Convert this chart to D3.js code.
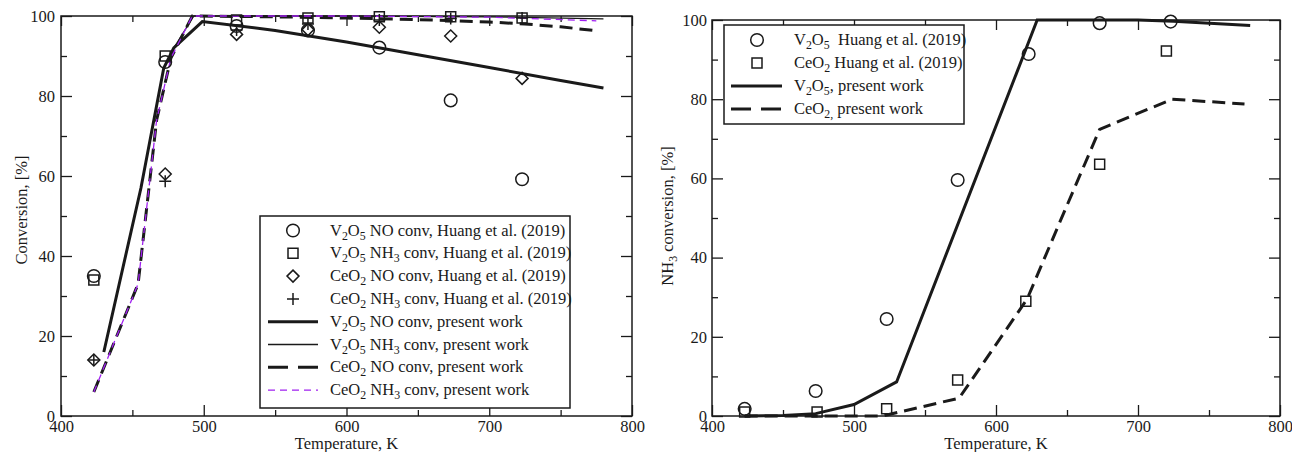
<!DOCTYPE html>
<html>
<head>
<meta charset="utf-8">
<script src="https://cdn.jsdelivr.net/npm/d3@7"></script>
<style>
  body { margin: 0; background: #fff; }
  svg { display: block; font-family: "Liberation Serif", "DejaVu Serif", serif; }
  text { white-space: pre; font-family: "Liberation Serif", "DejaVu Serif", serif; }
</style>
</head>
<body>
<div id="chart"></div>
<script>
/* DATA */
const tempTicks = [400, 500, 600, 700, 800];
const convTicks = [0, 20, 40, 60, 80, 100];
const expTemps = [423, 473, 523, 573, 623, 673, 723];

// left panel, Huang et al. (2019)
const v2o5NoExp = [35, 88.5, 97.5, 96.4, 92.1, 78.9, 59.2];
const v2o5Nh3Exp = [34, 90, 99, 99.5, 99.8, 99.8, 99.5];
const ceo2NoExp = [14, 60.5, 95.4, 96.6, 97.2, 95, 84.4];
const ceo2Nh3Exp = [14, 58.7, 96.5, 98, 99, 99.4, 99.5];

// left panel, present work
const v2o5NoModel = [[430, 16], [456, 57], [472, 87], [479, 92], [499, 98.6], [550, 96.4], [600, 93.5], [650, 90.3], [700, 87.1], [750, 83.9], [780, 82]];
const v2o5Nh3Model = [[430, 16], [456, 57], [472, 87], [479, 92], [493, 100], [600, 100], [700, 99.8], [780, 99.3]];
const ceo2NoModel = [[423, 6], [454, 33], [467, 74], [477, 89.5], [492, 100], [550, 99.8], [600, 99.5], [650, 99.1], [700, 98.5], [725, 98], [750, 97.3], [775, 96.3]];
const ceo2Nh3Model = [[423, 6], [454, 33], [467, 74], [477, 89.5], [492, 100], [600, 100], [700, 99.7], [775, 98.8]];

// right panel, NH3 conversion
const v2o5Nh3ExpR = [1.8, 6.3, 24.5, 59.6, 91.4, 99.2, 99.6];
const ceo2Temps = [423, 474, 523, 573, 621, 673, 720];
const ceo2Nh3ExpR = [1.0, 1.0, 1.8, 9.1, 29, 63.6, 92.2];
const v2o5Nh3ModelR = [[423, 0], [450, 0.1], [473, 0.6], [500, 2.9], [530, 8.6], [629, 100], [700, 100], [725, 99.7], [779, 98.6]];
const ceo2Nh3ModelR = [[423, 0], [520, 0], [574, 4.5], [598, 17], [622, 29.6], [645, 49], [673, 72.4], [724, 80], [775, 78.8]];

const svg = d3.select('#chart').append('svg')
  .attr('width', 1292)
  .attr('height', 452);

const ink = '#1a1a1a';
const purple = '#a020f0';
const fs = 16.5;

// writes "V_2O_5" style labels with subscripts
function richText(sel, str) {
  const parts = str.split(/(_\{[^}]*\}|_\S)/).filter(s => s.length);
  let low = false;
  parts.forEach(p => {
    if (p[0] === '_') {
      const s = p[1] === '{' ? p.slice(2, -1) : p.slice(1);
      sel.append('tspan').attr('dy', low ? 0 : 4).attr('font-size', '0.72em').text(s);
      low = true;
    } else {
      sel.append('tspan').attr('dy', low ? -4 : 0).text(p);
      low = false;
    }
  });
}

function marker(g, type, x, y) {
  const s = g.append('path').attr('fill', 'none').attr('stroke', ink).attr('stroke-width', 1.5);
  if (type === 'circle') s.attr('d', d3.symbol(d3.symbolCircle, 125)()).attr('transform', `translate(${x},${y})`);
  if (type === 'square') s.attr('d', `M-5,-5H5V5H-5Z`).attr('transform', `translate(${x},${y})`);
  if (type === 'diamond') s.attr('d', `M0,-6L6,0L0,6L-6,0Z`).attr('transform', `translate(${x},${y})`);
  if (type === 'plus') s.attr('d', `M-6,0H6M0,-6V6`).attr('transform', `translate(${x},${y})`);
}

const lineStyles = {
  thick: { w: 3, dash: null, c: ink },
  thin: { w: 1.3, dash: null, c: ink },
  thickDash: { w: 3, dash: '13,7', c: ink },
  purpleDash: { w: 1.3, dash: '7,5', c: purple }
};

function panel(opt) {
  const x = d3.scaleLinear().domain([400, 800]).range(opt.xr);
  const y = d3.scaleLinear().domain([0, 100]).range(opt.yr);
  const g = svg.append('g');
  const [x0, x1] = opt.xr;
  const [y0, y1] = opt.yr;

  // ticks on all four sides, pointing in
  const minorX = d3.range(450, 800, 100);
  const minorY = d3.range(10, 100, 20);
  const axes = [
    [d3.axisBottom(x).tickValues(tempTicks).tickSize(-11).tickPadding(4), `translate(0,${y0})`, true],
    [d3.axisBottom(x).tickValues(minorX).tickSize(-6).tickFormat(''), `translate(0,${y0})`, false],
    [d3.axisTop(x).tickValues(tempTicks).tickSize(-10).tickFormat(''), `translate(0,${y1})`, false],
    [d3.axisTop(x).tickValues(minorX).tickSize(-6).tickFormat(''), `translate(0,${y1})`, false],
    [d3.axisLeft(y).tickValues(convTicks).tickSize(-11).tickPadding(opt.yPad), `translate(${x0},0)`, true],
    [d3.axisLeft(y).tickValues(minorY).tickSize(-6).tickFormat(''), `translate(${x0},0)`, false],
    [d3.axisRight(y).tickValues(convTicks).tickSize(-11).tickFormat(''), `translate(${x1},0)`, false],
    [d3.axisRight(y).tickValues(minorY).tickSize(-6).tickFormat(''), `translate(${x1},0)`, false]
  ];
  axes.forEach(([ax, tr, labels]) => {
    const a = g.append('g').attr('transform', tr).call(ax.tickSizeOuter(0));
    a.select('.domain').remove();
    a.attr('font-family', null).attr('font-size', fs);
    a.selectAll('line').attr('stroke', ink).attr('stroke-width', 1.3);
    if (labels) a.selectAll('text').attr('fill', ink);
  });

  g.append('rect')
    .attr('x', x0).attr('y', y1)
    .attr('width', x1 - x0).attr('height', y0 - y1)
    .attr('fill', 'none').attr('stroke', ink).attr('stroke-width', 1.5);

  // axis titles
  g.append('text')
    .attr('x', (x0 + x1) / 2).attr('y', 449)
    .attr('text-anchor', 'middle').attr('font-size', fs).attr('fill', ink)
    .text('Temperature, K');
  const yt = g.append('text')
    .attr('transform', `translate(${opt.yTitleX},${opt.yTitleY}) rotate(-90)`)
    .attr('text-anchor', 'middle').attr('font-size', fs).attr('fill', ink);
  richText(yt, opt.yTitle);

  const line = d3.line().x(d => x(d[0])).y(d => y(d[1]));
  opt.lines.forEach(l => {
    const st = lineStyles[l.style];
    g.append('path')
      .datum(l.data)
      .attr('d', line)
      .attr('fill', 'none')
      .attr('stroke', st.c)
      .attr('stroke-width', st.w)
      .attr('stroke-dasharray', st.dash);
  });
  opt.points.forEach(p => {
    p.values.forEach((v, i) => marker(g, p.type, x(p.temps[i]), y(v)));
  });

  // legend
  const lg = opt.legend;
  g.append('rect')
    .attr('x', lg.x).attr('y', lg.y)
    .attr('width', lg.w).attr('height', lg.h)
    .attr('fill', '#fff').attr('stroke', ink).attr('stroke-width', 1.5);
  lg.items.forEach((it, i) => {
    const cy = lg.y + lg.first + i * lg.step;
    if (it.type) {
      marker(g, it.type, lg.symX, cy);
    } else {
      const st = lineStyles[it.style];
      g.append('line')
        .attr('x1', lg.lineX[0]).attr('x2', lg.lineX[1])
        .attr('y1', cy).attr('y2', cy)
        .attr('stroke', st.c).attr('stroke-width', st.w)
        .attr('stroke-dasharray', it.style === 'thickDash' ? '20,10' : st.dash);
    }
    const t = g.append('text')
      .attr('x', lg.textX).attr('y', cy + 5)
      .attr('font-size', fs).attr('fill', ink);
    richText(t, it.label);
  });
}

panel({
  xr: [61, 632], yr: [416, 16], yPad: 6,
  yTitle: 'Conversion, [%]', yTitleX: 27, yTitleY: 210,
  lines: [
    { data: v2o5NoModel, style: 'thick' },
    { data: v2o5Nh3Model, style: 'thin' },
    { data: ceo2NoModel, style: 'thickDash' },
    { data: ceo2Nh3Model, style: 'purpleDash' }
  ],
  points: [
    { temps: expTemps, values: v2o5NoExp, type: 'circle' },
    { temps: expTemps, values: v2o5Nh3Exp, type: 'square' },
    { temps: expTemps, values: ceo2NoExp, type: 'diamond' },
    { temps: expTemps, values: ceo2Nh3Exp, type: 'plus' }
  ],
  legend: {
    x: 260, y: 216, w: 310, h: 192, first: 14.5, step: 22.8,
    symX: 293, lineX: [268, 318], textX: 330,
    items: [
      { type: 'circle', label: 'V_2O_5 NO conv, Huang et al. (2019)' },
      { type: 'square', label: 'V_2O_5 NH_3 conv, Huang et al. (2019)' },
      { type: 'diamond', label: 'CeO_2 NO conv, Huang et al. (2019)' },
      { type: 'plus', label: 'CeO_2 NH_3 conv, Huang et al. (2019)' },
      { style: 'thick', label: 'V_2O_5 NO conv, present work' },
      { style: 'thin', label: 'V_2O_5 NH_3 conv, present work' },
      { style: 'thickDash', label: 'CeO_2 NO conv, present work' },
      { style: 'purpleDash', label: 'CeO_2 NH_3 conv, present work' }
    ]
  }
});

panel({
  xr: [712, 1280], yr: [416, 20], yPad: 5,
  yTitle: 'NH_3 conversion, [%]', yTitleX: 673, yTitleY: 216,
  lines: [
    { data: v2o5Nh3ModelR, style: 'thick' },
    { data: ceo2Nh3ModelR, style: 'thickDash' }
  ],
  points: [
    { temps: expTemps, values: v2o5Nh3ExpR, type: 'circle' },
    { temps: ceo2Temps, values: ceo2Nh3ExpR, type: 'square' }
  ],
  legend: {
    x: 724, y: 25, w: 240, h: 99, first: 15, step: 23,
    symX: 757, lineX: [731, 782], textX: 794,
    items: [
      { type: 'circle', label: 'V_2O_5  Huang et al. (2019)' },
      { type: 'square', label: 'CeO_2 Huang et al. (2019)' },
      { style: 'thick', label: 'V_2O_5, present work' },
      { style: 'thickDash', label: 'CeO_{2,} present work' }
    ]
  }
});
</script>
</body>
</html>
